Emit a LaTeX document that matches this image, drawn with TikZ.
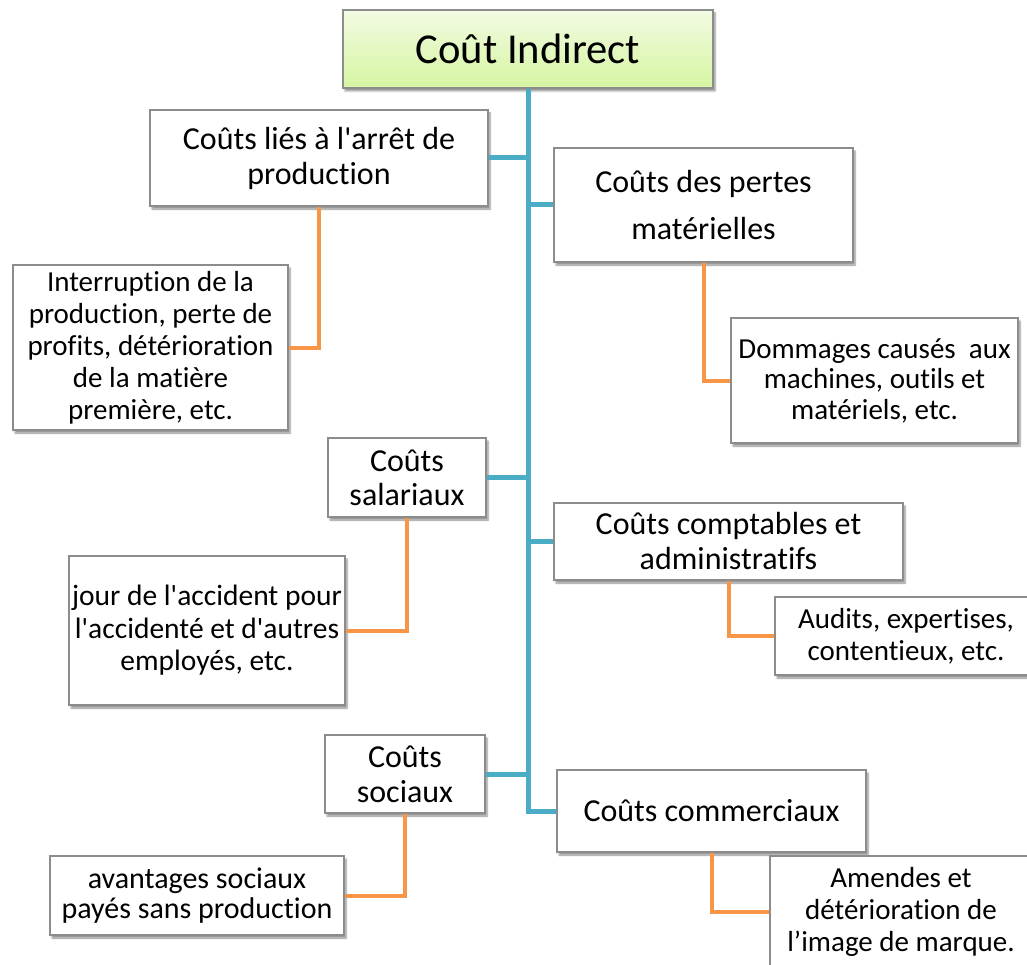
\documentclass[tikz,border=0pt]{standalone}
\usepackage{fontspec}
\setmainfont{Carlito}[Ligatures=NoCommon]
\usetikzlibrary{shadows.blur}
\definecolor{trunkblue}{RGB}{75,172,198}
\definecolor{leaforange}{RGB}{247,150,70}
\definecolor{boxgray}{RGB}{140,140,140}
\definecolor{titletop}{RGB}{242,251,226}
\definecolor{titlebot}{RGB}{214,245,162}
\newcommand{\sq}{\textquotesingle}
\tikzset{
  cbox/.style={draw=boxgray, line width=1.3pt, fill=white, align=center,
    inner sep=0pt, text=black,
    font=\fontsize{29}{#1}\selectfont,
    blur shadow={shadow xshift=2pt, shadow yshift=-3pt, shadow blur steps=6, shadow opacity=45}},
  headbox/.style={cbox, font=\fontsize{32}{#1}\selectfont},
  trunk/.style={draw=trunkblue, line width=5pt, line join=miter},
  leaf/.style={draw=leaforange, line width=4pt, line join=miter}
}
\begin{document}
\begin{tikzpicture}[x=1pt, y=-1pt]
\path[use as bounding box] (0,0) rectangle (1027,965);
\clip (0,0) rectangle (1027,965);

% title
\node[cbox=44, top color=titletop, bottom color=titlebot,
  minimum width=370pt, minimum height=78pt, font=\fontsize{42.6}{44}\selectfont]
  (T) at (528,49) {Coût Indirect};

% first-level boxes
\node[headbox=35, minimum width=338pt, minimum height=96pt] (A) at (319,158)
  {Coûts liés à l\sq arrêt de\\production};
\node[headbox=47, minimum width=299pt, minimum height=114pt] (B) at (703.5,205)
  {Coûts des pertes\\matérielles};
\node[headbox=34, minimum width=158pt, minimum height=79pt] (E) at (407,477.5)
  {Coûts\\salariaux};
\node[headbox=35, minimum width=349pt, minimum height=77pt] (F) at (728.5,541.5)
  {Coûts comptables et\\administratifs};
\node[headbox=35, minimum width=160pt, minimum height=78pt] (I) at (405,774)
  {Coûts\\sociaux};
\node[headbox=35, minimum width=309pt, minimum height=82pt] (J) at (711.5,811)
  {Coûts commerciaux};

% detail boxes
\node[cbox=32, minimum width=275pt, minimum height=165pt] (C) at (150.5,347.5)
  {Interruption de la\\production, perte de\\profits, détérioration\\de la matière\\première, etc.};
\node[cbox=30.5, minimum width=287pt, minimum height=125pt] (D) at (874.5,380.5)
  {Dommages causés\ \ aux\\machines, outils et\\matériels, etc.};
\node[cbox=32.5, minimum width=276pt, minimum height=149pt, font=\fontsize{29.5}{32.5}\selectfont] (G) at (207,630.5)
  {jour de l\sq accident pour\\l\sq accidenté et d\sq autres\\employés, etc.};
\node[cbox=32, minimum width=262pt, minimum height=78pt] (H) at (906,636)
  {Audits, expertises,\\contentieux, etc.};
\node[cbox=30, minimum width=294pt, minimum height=79pt, font=\fontsize{30}{30}\selectfont] (K) at (197,895.5)
  {avantages sociaux\\payés sans production};
\node[cbox=32, minimum width=262pt, minimum height=112pt] (L) at (901,912)
  {Amendes et\\détérioration de\\l’image de marque.};

% trunk and first-level branches
\draw[trunk] (T.south) |- (J.west);
\draw[trunk] (A.east) -- (A.east -| T.south);
\draw[trunk] (B.west) -- (B.west -| T.south);
\draw[trunk] (E.east) -- (E.east -| T.south);
\draw[trunk] (F.west) -- (F.west -| T.south);
\draw[trunk] (I.east) -- (I.east -| T.south);

% detail links
\draw[leaf] (A.south) |- (C.east);
\draw[leaf] (B.south) |- (D.west);
\draw[leaf] (E.south) |- (G.east);
\draw[leaf] (F.south) |- (H.west);
\draw[leaf] (I.south) |- (K.east);
\draw[leaf] (J.south) |- (L.west);
\end{tikzpicture}
\end{document}
